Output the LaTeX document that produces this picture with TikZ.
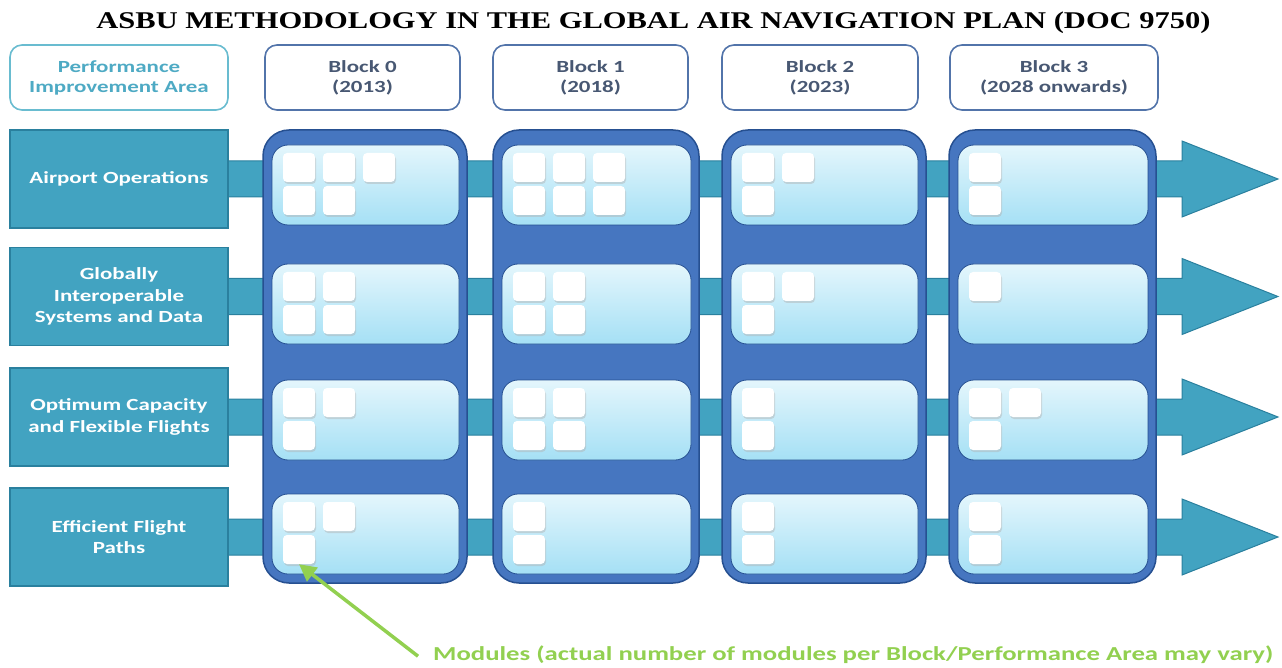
\documentclass[tikz,border=0pt]{standalone}
\usepackage{fontspec}
\setmainfont{Carlito}
\newfontfamily\labelfont{Carlito}[FakeStretch=1.35]
\newfontfamily\titlefont{Liberation Serif}[FakeStretch=1.27]
\usetikzlibrary{arrows.meta}
\usetikzlibrary{shadows}

\definecolor{areateal}{RGB}{66,163,193}
\definecolor{areaedge}{RGB}{42,128,158}
\definecolor{colblue}{RGB}{70,118,192}
\definecolor{coledge}{RGB}{38,80,145}
\definecolor{cellhi}{RGB}{228,246,252}
\definecolor{celllo}{RGB}{165,224,245}
\definecolor{headedge}{RGB}{82,116,170}
\definecolor{headtext}{RGB}{72,88,115}
\definecolor{piaedge}{RGB}{105,188,208}
\definecolor{piatext}{RGB}{78,170,196}
\definecolor{notegreen}{RGB}{146,208,80}

\tikzset{
    areabox/.style={draw=areaedge, line width=1.2pt, fill=areateal, text=white,
        minimum width=218pt, minimum height=98pt, align=center,
        font=\labelfont\bfseries\fontsize{17}{21.5}\selectfont},
    headbox/.style={draw=headedge, line width=1.6pt, fill=white, rounded corners=12pt,
        minimum height=65pt, align=center, text=headtext,
        font=\labelfont\bfseries\fontsize{17}{20}\selectfont},
    lane/.style={draw=areaedge, line width=1pt, fill=areateal},
    blockcol/.style={draw=coledge, line width=1.5pt, fill=colblue, rounded corners=26pt},
    cell/.style={draw=coledge, line width=0.8pt, top color=cellhi, bottom color=celllo, rounded corners=16pt},
    module/.style={fill=white, rounded corners=4pt, minimum width=32pt, minimum height=29pt, inner sep=0pt,
        drop shadow={shadow xshift=1pt, shadow yshift=-2pt, fill=black!30, opacity=.45}},
    note/.style={text=notegreen, inner sep=3pt, font=\labelfont\bfseries\fontsize{19.8}{24}\selectfont},
    pointer/.style={draw=notegreen, line width=3.5pt, -{Triangle[length=17pt,width=17pt]}}
}

\begin{document}
\begin{tikzpicture}[x=1pt,y=-1pt]
    \useasboundingbox (0,0) rectangle (1282,668);

    % title
    \node[font=\titlefont\bfseries\fontsize{24}{28}\selectfont] (title) at (653.5,23)
        {ASBU METHODOLOGY IN THE GLOBAL AIR NAVIGATION PLAN (DOC 9750)};

    % header row
    \node[headbox, draw=piaedge, text=piatext, minimum width=218pt] (pia) at (119,77.5)
        {Performance\\Improvement Area};
    \foreach \bk/\xc/\w/\yr in {0/362.5/195pt/(2013),1/590.5/195pt/(2018),2/820/196pt/(2023),3/1054/208pt/(2028 onwards)} {
        \node[headbox, minimum width=\w] (block\bk) at (\xc,77.5) {Block \bk\\\yr};
    }

    % performance areas with their arrows
    \foreach \r/\yc/\txt in {1/179/{Airport Operations},
                             2/296.5/{Globally\\Interoperable\\Systems and Data},
                             3/417/{Optimum Capacity\\and Flexible Flights},
                             4/537/{Efficient Flight\\Paths}} {
        \draw[lane] (220,\yc-18) -- (1182,\yc-18) -- (1182,\yc-38) -- (1278,\yc)
            -- (1182,\yc+38) -- (1182,\yc+18) -- (220,\yc+18) -- cycle;
        \node[areabox] (area\r) at (119,\yc) {\txt};
    }

    % blocks: one column each, one cell per area, modules as top/bottom counts
    \foreach \bk/\xl/\xr/\mods in {0/263/467/{3/2,2/2,2/1,2/1},
                                   1/493/699/{3/3,2/2,2/2,1/1},
                                   2/722/926/{2/1,2/1,1/1,1/1},
                                   3/949/1156/{1/1,1/0,2/1,1/1}} {
        \draw[blockcol] (\xl,130) rectangle (\xr,583);
        \foreach \ntop/\nbot [count=\r] in \mods {
            \pgfmathsetmacro\ct{{145,264,380,494}[\r-1]}
            \draw[cell] (\xl+9,\ct) rectangle (\xr-8,\ct+80);
            \foreach \i in {1,...,\ntop}
                \node[module] (m-\bk-\r-t\i) at (\xl+36+40*\i-40,\ct+22.5) {};
            \ifnum\nbot>0
                \foreach \i in {1,...,\nbot}
                    \node[module] (m-\bk-\r-b\i) at (\xl+36+40*\i-40,\ct+55.5) {};
            \fi
        }
    }

    % note on the modules
    \node[note, anchor=base west] (modnote) at (430,660)
        {Modules (actual number of modules per Block/Performance Area may vary)};
    \draw[pointer] ([xshift=-12pt,yshift=-2pt]modnote.west) -- (m-0-4-b1.south);
\end{tikzpicture}
\end{document}
